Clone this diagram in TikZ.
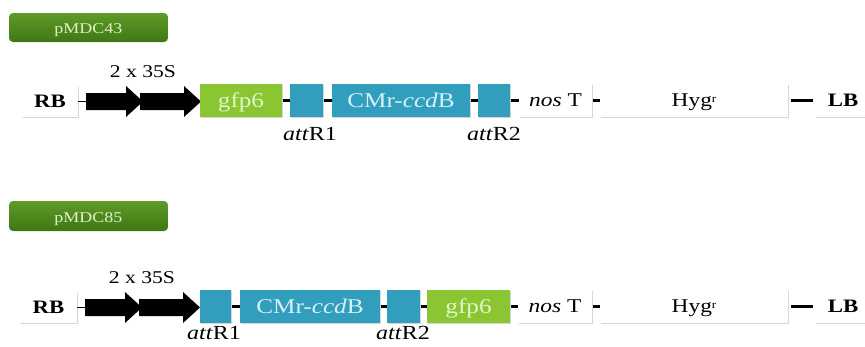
\documentclass[tikz,border=0pt]{standalone}
\usepackage{fontspec}
\setmainfont{Liberation Serif}[FakeStretch=1.2]

\definecolor{tealc}{RGB}{48,158,188}
\definecolor{cmrtext}{RGB}{214,240,248}
\definecolor{gfpgreen}{RGB}{138,198,50}
\definecolor{gfptext}{RGB}{226,245,200}
\definecolor{tagtop}{RGB}{96,154,40}
\definecolor{tagbot}{RGB}{62,120,20}
\definecolor{tagtext}{RGB}{222,240,196}

\newcommand\fs[1]{\fontsize{#1}{#1}\selectfont}

% two abutting block arrows (2 x 35S promoter): start x, first tip x, second tip x, centre y
\newcommand\promoterpair[4]{%
  \fill (#1,#4-8.5) -- (#2-17,#4-8.5) -- (#2-17,#4-15.5) -- (#2,#4)
        -- (#2-17,#4+15.5) -- (#2-17,#4+8.5) -- (#1,#4+8.5) -- cycle;
  \fill (#2-3,#4-8.5) -- (#3-17,#4-8.5) -- (#3-17,#4-15.5) -- (#3,#4)
        -- (#3-17,#4+15.5) -- (#3-17,#4+8.5) -- (#2-3,#4+8.5) -- cycle;}

\tikzset{
  base/.style={inner sep=0pt, outer sep=0pt, minimum height=33pt, text depth=0pt,
    preaction={fill=black!16, transform canvas={xshift=0.6pt, yshift=-1.4pt}}},
  wbox/.style={base, fill=white, text=black},
  tealbox/.style={base, fill=tealc, text=cmrtext},
  gfpbox/.style={base, fill=gfpgreen, text=gfptext},
  tag/.style={rounded corners=4pt, top color=tagtop, bottom color=tagbot, text=tagtext,
    minimum width=159pt, minimum height=29pt, inner sep=0pt, text depth=0pt},
  link/.style={line width=2.6pt, shorten >=0.5pt, shorten <=0.5pt},
  longlink/.style={line width=2.6pt, shorten >=2.5pt, shorten <=2.5pt},
  thinlink/.style={line width=1.4pt},
  lbl/.style={inner sep=0pt, text=black},
}

\begin{document}
\begin{tikzpicture}[x=1pt, y=-1pt]
\useasboundingbox (0,0) rectangle (865,346);

% ---------- pMDC43 ----------
\node[tag] (tagA) at (88.5,27.5) {\fs{15}\raisebox{-2.5pt}{pMDC43}};

\node[wbox, minimum width=56pt, minimum height=31pt] (rbA) at (50,101.5) {\fs{19}\bfseries RB};
\coordinate (pA) at (86,101.5);
\promoterpair{86}{143}{201}{101.5}
\node[lbl] (sA) at (143,71.5) {\fs{18}2 x 35S};

\node[gfpbox, minimum width=82pt] (gfpA) at (241,100.5) {\fs{21}gfp6};
\node[tealbox, minimum width=33pt] (attA1) at (306.5,100.5) {};
\node[tealbox, minimum width=138pt] (cmrA) at (401,100.5) {\fs{21}CMr-\textit{ccd}B};
\node[tealbox, minimum width=32pt] (attA2) at (494,100.5) {};
\node[wbox, minimum width=73pt] (nosA) at (555.5,100.5) {\fs{19.5}\textit{nos} T};
\node[wbox, minimum width=188pt] (hygA) at (694,100.5) {\fs{19.5}Hyg\raisebox{4pt}{\fs{11}r}};
\node[wbox, minimum width=56pt] (lbA) at (843,100.5) {\fs{19}\bfseries LB};

\node[lbl] (rA1) at (310,133.5) {\fs{20}\textit{att}R1};
\node[lbl] (rA2) at (494,133.5) {\fs{20}\textit{att}R2};

\draw[thinlink] (rbA.east) -- (pA);
\draw[link] (gfpA) -- (attA1);
\draw[link] (attA1) -- (cmrA);
\draw[link] (cmrA) -- (attA2);
\draw[link] (attA2) -- (nosA);
\draw[link] (nosA) -- (hygA);
\draw[longlink] (hygA) -- (lbA);

% ---------- pMDC85 ----------
\node[tag, minimum height=30pt] (tagB) at (88.5,216) {\fs{15}\raisebox{-2.5pt}{pMDC85}};

\node[wbox, minimum width=57pt, minimum height=31pt] (rbB) at (48.5,307.5) {\fs{19}\bfseries RB};
\coordinate (pB) at (85,307.5);
\promoterpair{85}{142}{200}{307.5}
\node[lbl] (sB) at (142,278) {\fs{18}2 x 35S};

\node[tealbox, minimum width=31pt] (attB1) at (215.5,306.5) {};
\node[tealbox, minimum width=140pt] (cmrB) at (310,306.5) {\fs{21}CMr-\textit{ccd}B};
\node[tealbox, minimum width=33pt] (attB2) at (403.5,306.5) {};
\node[gfpbox, minimum width=83pt] (gfpB) at (468.5,306.5) {\fs{21}gfp6};
\node[wbox, minimum width=74pt] (nosB) at (555,306.5) {\fs{19.5}\textit{nos} T};
\node[wbox, minimum width=188pt] (hygB) at (694,306.5) {\fs{19.5}Hyg\raisebox{4pt}{\fs{11}r}};
\node[wbox, minimum width=56pt] (lbB) at (843,306.5) {\fs{19}\bfseries LB};

\node[lbl] (rB1) at (214,333) {\fs{20}\textit{att}R1};
\node[lbl] (rB2) at (403,333) {\fs{20}\textit{att}R2};

\draw[thinlink] (rbB.east) -- (pB);
\draw[link] (attB1) -- (cmrB);
\draw[link] (cmrB) -- (attB2);
\draw[link] (attB2) -- (gfpB);
\draw[link] (gfpB) -- (nosB);
\draw[link] (nosB) -- (hygB);
\draw[longlink] (hygB) -- (lbB);
\end{tikzpicture}
\end{document}
